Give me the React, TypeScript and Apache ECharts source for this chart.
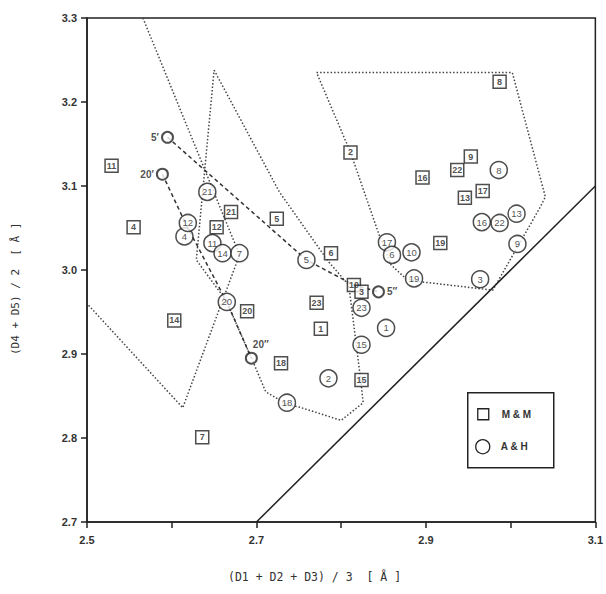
import React, { useEffect, useRef } from "react";
import * as echarts from "echarts";

// ---- Data ----
// M & M (squares)
const mmLabels = ["11", "4", "14", "7", "12", "21", "5", "6", "23", "20", "1", "18", "2", "8", "9", "22", "16", "17", "13", "19", "10", "3", "15"];
const mmX = [2.529, 2.555, 2.603, 2.636, 2.653, 2.670, 2.724, 2.788, 2.771, 2.689, 2.776, 2.729, 2.811, 2.987, 2.953, 2.937, 2.896, 2.967, 2.946, 2.917, 2.815, 2.824, 2.824];
const mmY = [3.124, 3.051, 2.940, 2.801, 3.051, 3.069, 3.061, 3.020, 2.961, 2.951, 2.930, 2.889, 3.140, 3.224, 3.135, 3.119, 3.110, 3.094, 3.086, 3.032, 2.982, 2.974, 2.869];

// A & H (circles)
const ahLabels = ["21", "4", "12", "11", "14", "7", "20", "18", "2", "5", "23", "1", "15", "19", "3", "17", "6", "10", "8", "16", "22", "13", "9"];
const ahX = [2.642, 2.615, 2.619, 2.648, 2.660, 2.680, 2.665, 2.736, 2.785, 2.759, 2.824, 2.853, 2.824, 2.886, 2.964, 2.854, 2.860, 2.883, 2.986, 2.966, 2.987, 3.007, 3.008];
const ahY = [3.093, 3.040, 3.056, 3.032, 3.020, 3.020, 2.962, 2.842, 2.871, 3.012, 2.955, 2.931, 2.911, 2.990, 2.989, 3.033, 3.018, 3.021, 3.119, 3.057, 3.056, 3.067, 3.031];

// Primed reference points (open circles)
const primeLabels = ["5\u2032", "20\u2032", "5\u2033", "20\u2033"];
const primeX = [2.595, 2.589, 2.844, 2.694];
const primeY = [3.158, 3.114, 2.974, 2.895];
const primeLabelPos = ["left", "left", "right", "topRight"];

// Dotted region outlines
const regionA: number[][] = [[2.566, 3.3], [2.680, 3.018], [2.613, 2.836], [2.5, 2.960]];
const regionB: number[][] = [
  [2.650, 3.238], [2.727, 3.093], [2.785, 3.010], [2.809, 2.982], [2.823, 2.869], [2.826, 2.842],
  [2.800, 2.821], [2.750, 2.837], [2.736, 2.840], [2.711, 2.855], [2.695, 2.893], [2.664, 2.964],
  [2.629, 3.012], [2.650, 3.238],
];
const regionC: number[][] = [
  [2.771, 3.235], [3.002, 3.235], [3.041, 3.087], [3.035, 3.075], [2.979, 2.976], [2.894, 2.986],
  [2.876, 2.990], [2.859, 3.006], [2.844, 3.044], [2.811, 3.140], [2.771, 3.235],
];

// Dashed connecting lines
const dash5: number[][] = [[2.595, 3.158], [2.759, 3.012], [2.815, 2.982], [2.844, 2.974]];
const dash20: number[][] = [[2.589, 3.114], [2.617, 3.054], [2.665, 2.962], [2.694, 2.895]];

// Identity line y = x
const identity: number[][] = [[2.7, 2.7], [3.1, 3.1]];

const xMin = 2.5, xMax = 3.1, yMin = 2.7, yMax = 3.3, step = 0.1;

const tickFont = "'Liberation Sans', Arial, sans-serif";
const monoFont = "'DejaVu Sans Mono', 'Liberation Mono', monospace";

export default function App() {
  const ref = useRef<HTMLDivElement>(null);
  useEffect(() => {
    if (!ref.current) return;
    const chart = echarts.init(ref.current, null, { renderer: "svg" });

    const dottedStyle = { color: "#444", width: 1.5, type: [1.5, 2] as any };
    const dashedStyle = { color: "#333", width: 1.5, type: [4, 3] as any };

    const lineSeries = (name: string, data: number[][], style: any, z = 2) => ({
      name,
      type: "line",
      data,
      symbol: "none",
      lineStyle: style,
      silent: true,
      z,
    });

    const option: any = {
      animation: false,
      backgroundColor: "#ffffff",
      grid: { left: 87, top: 18, right: 8, bottom: 72, show: true, borderColor: "#222", borderWidth: 1.5, backgroundColor: "transparent" },
      xAxis: {
        type: "value",
        min: xMin,
        max: xMax,
        interval: step,
        axisLine: { lineStyle: { color: "#222", width: 1.5 } },
        axisTick: { length: 6, lineStyle: { color: "#222", width: 1.5 } },
        splitLine: { show: false },
        axisLabel: {
          margin: 12,
          fontSize: 11,
          fontWeight: "bold",
          color: "#333",
          fontFamily: tickFont,
          formatter: (v: number) => (Math.round(v * 10) % 2 === 1 ? v.toFixed(1) : ""),
        },
      },
      yAxis: {
        type: "value",
        min: yMin,
        max: yMax,
        interval: step,
        axisLine: { lineStyle: { color: "#222", width: 1.5 } },
        axisTick: { length: 6, lineStyle: { color: "#222", width: 1.5 } },
        splitLine: { show: false },
        axisLabel: {
          margin: 10,
          fontSize: 11,
          fontWeight: "bold",
          color: "#333",
          fontFamily: tickFont,
          formatter: (v: number) => v.toFixed(1),
        },
      },
      series: [
        lineSeries("regionA", regionA, dottedStyle),
        lineSeries("regionB", regionB, dottedStyle),
        lineSeries("regionC", regionC, dottedStyle),
        lineSeries("dash5", dash5, dashedStyle),
        lineSeries("dash20", dash20, dashedStyle),
        lineSeries("identity", identity, { color: "#222", width: 1.5, type: "solid" }),
        {
          name: "M & M",
          type: "scatter",
          symbol: "rect",
          symbolSize: 13,
          z: 5,
          itemStyle: { color: "#fff", borderColor: "#222", borderWidth: 1.5 },
          label: {
            show: true,
            position: "inside",
            fontSize: 9,
            fontWeight: "bold",
            color: "#222",
            fontFamily: tickFont,
            formatter: (p: any) => mmLabels[p.dataIndex],
          },
          data: mmX.map((x, i) => [x, mmY[i]]),
        },
        {
          name: "A & H",
          type: "scatter",
          symbol: "circle",
          symbolSize: 17,
          z: 5,
          itemStyle: { color: "#fff", borderColor: "#222", borderWidth: 1.5 },
          label: {
            show: true,
            position: "inside",
            fontSize: 9.5,
            color: "#222",
            fontFamily: tickFont,
            formatter: (p: any) => ahLabels[p.dataIndex],
          },
          data: ahX.map((x, i) => [x, ahY[i]]),
        },
        {
          name: "primed",
          type: "scatter",
          symbol: "circle",
          symbolSize: 11,
          z: 6,
          itemStyle: { color: "#fff", borderColor: "#222", borderWidth: 2 },
          data: primeX.map((x, i) => ({
            value: [x, primeY[i]],
            label: {
              show: true,
              position: primeLabelPos[i] === "topRight" ? [8, -12] : primeLabelPos[i],
              distance: 2,
              fontSize: 10,
              fontWeight: "bold",
              color: "#222",
              fontFamily: tickFont,
              formatter: primeLabels[i],
            },
          })),
        },
      ],
      graphic: [
        {
          type: "text",
          left: 228,
          top: 571,
          style: { text: "(D1 + D2 + D3) / 3  [ \u00c5 ]", fontSize: 11.5, fontFamily: monoFont, fill: "#333" },
        },
        {
          type: "text",
          x: 10,
          y: 355,
          rotation: Math.PI / 2,
          style: { text: "(D4 + D5) / 2  [ \u00c5 ]", fontSize: 11, fontFamily: monoFont, fill: "#333" },
        },
        {
          type: "group",
          left: 467,
          top: 392,
          children: [
            { type: "rect", shape: { x: 0, y: 0, width: 86, height: 75 }, style: { fill: "#fff", stroke: "#222", lineWidth: 1.5 } },
            { type: "rect", shape: { x: 10, y: 16, width: 11, height: 11 }, style: { fill: "#fff", stroke: "#222", lineWidth: 1.3 } },
            { type: "circle", shape: { cx: 15, cy: 54, r: 7 }, style: { fill: "#fff", stroke: "#222", lineWidth: 1.3 } },
            { type: "text", x: 34, y: 21.5, style: { text: "M & M", fontSize: 10, fontWeight: "bold", fontFamily: tickFont, fill: "#333", verticalAlign: "middle" } },
            { type: "text", x: 33, y: 54, style: { text: "A & H", fontSize: 10, fontWeight: "bold", fontFamily: tickFont, fill: "#333", verticalAlign: "middle" } },
          ],
        },
      ],
    };
    chart.setOption(option);
    return () => chart.dispose();
  }, []);
  return <div ref={ref} style={{ position: "fixed", left: 0, top: 0, width: 606, height: 594, background: "#fff" }} />;
}
